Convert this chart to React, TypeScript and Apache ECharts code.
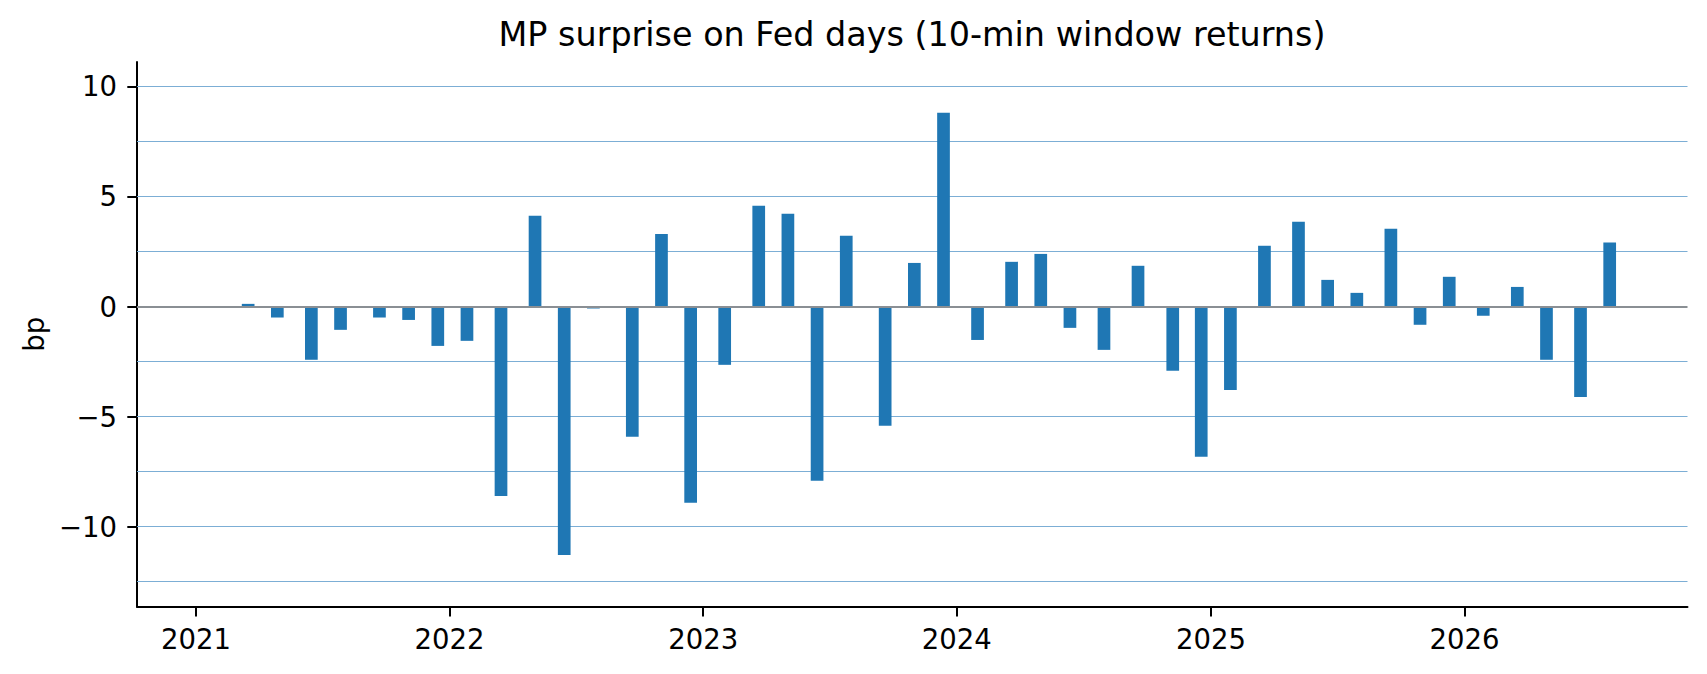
import React, { useEffect, useRef } from "react";
import * as echarts from "echarts";

// FOMC announcement days
const dates: string[] = [
  "2021-01-27", "2021-03-17", "2021-04-28", "2021-06-16", "2021-07-28", "2021-09-22", "2021-11-03", "2021-12-15",
  "2022-01-26", "2022-03-16", "2022-05-04", "2022-06-15", "2022-07-27", "2022-09-21", "2022-11-02", "2022-12-14",
  "2023-02-01", "2023-03-22", "2023-05-03", "2023-06-14", "2023-07-26", "2023-09-20", "2023-11-01", "2023-12-13",
  "2024-01-31", "2024-03-20", "2024-05-01", "2024-06-12", "2024-07-31", "2024-09-18", "2024-11-07", "2024-12-18",
  "2025-01-29", "2025-03-19", "2025-05-07", "2025-06-18", "2025-07-30", "2025-09-17", "2025-10-29", "2025-12-10",
  "2026-01-28", "2026-03-18", "2026-04-29", "2026-06-17", "2026-07-29",
];

// MP surprise (bp), 10-min window returns
const surprise: number[] = [
  0.0, 0.12, -0.5, -2.42, -1.06, -0.5, -0.61, -1.79,
  -1.56, -8.61, 4.12, -11.29, -0.09, -5.92, 3.3, -8.92,
  -2.65, 4.58, 4.21, -7.92, 3.21, -5.42, 1.98, 8.8,
  -1.52, 2.03, 2.39, -0.97, -1.97, 1.85, -2.92, -6.83,
  -3.79, 2.76, 3.85, 1.21, 0.62, 3.53, -0.83, 1.35,
  -0.42, 0.89, -2.42, -4.11, 2.91,
];

const yearTicks: string[] = ["2021-01-01", "2022-01-01", "2023-01-01", "2024-01-01", "2025-01-01", "2026-01-01"];
const yTickLabels: number[] = [-10, -5, 0, 5, 10];
const yGridValues: number[] = [-12.5, -10, -7.5, -5, -2.5, 2.5, 5, 7.5, 10];

const xMinDate = "2020-10-08";
const xMaxDate = "2026-11-18";
const yMin = -13.64;
const yMax = 11.11;

const toUTC = (s: string): number => {
  const [y, m, d] = s.split("-").map(Number);
  return Date.UTC(y, m - 1, d);
};

const FONT = "DejaVu Sans";

export default function App() {
  const ref = useRef<HTMLDivElement>(null);

  useEffect(() => {
    if (!ref.current) return;
    const chart = echarts.init(ref.current, undefined, { renderer: "svg" });
    const option: any = {
      animation: false,
      backgroundColor: "#ffffff",
      title: {
        text: "MP surprise on Fed days (10-min window returns)",
        left: 907,
        top: 13,
        textAlign: "center",
        textStyle: { fontFamily: FONT, fontSize: 33.4, fontWeight: "normal", color: "#000000" },
      },
      grid: { left: 137, right: 19.5, top: 62, bottom: 67.3, containLabel: false },
      xAxis: {
        type: "value",
        min: toUTC(xMinDate),
        max: toUTC(xMaxDate),
        axisLine: { show: true, onZero: false, lineStyle: { color: "#000000", width: 2 } },
        axisTick: {
          show: true,
          length: 9.7,
          customValues: yearTicks.map(toUTC),
          lineStyle: { color: "#000000", width: 2 },
        },
        axisLabel: {
          customValues: yearTicks.map(toUTC),
          formatter: (v: number) => String(new Date(v).getUTCFullYear()),
          fontFamily: FONT,
          fontSize: 27.5,
          color: "#000000",
          margin: 18,
        },
        splitLine: { show: false },
      },
      yAxis: {
        type: "value",
        min: yMin,
        max: yMax,
        name: "bp",
        nameLocation: "middle",
        nameRotate: 90,
        nameGap: 89,
        nameTextStyle: { fontFamily: FONT, fontSize: 27.5, color: "#000000" },
        axisLine: { show: true, onZero: false, lineStyle: { color: "#000000", width: 2 } },
        axisTick: {
          show: true,
          length: 9.7,
          customValues: yTickLabels,
          lineStyle: { color: "#000000", width: 2 },
        },
        axisLabel: {
          customValues: yTickLabels,
          formatter: (v: number) => (v < 0 ? "\u2212" + Math.abs(v) : String(v)),
          fontFamily: FONT,
          fontSize: 27.5,
          color: "#000000",
          margin: 20,
        },
        splitLine: { show: false },
      },
      series: [
        {
          type: "line",
          data: [],
          silent: true,
          z: 1,
          markLine: {
            silent: true,
            z: 1,
            symbol: "none",
            label: { show: false },
            lineStyle: { color: "#7caed5", width: 1.2, type: "solid" },
            data: yGridValues.map((v) => ({ yAxis: v })),
          },
        },
        {
          type: "bar",
          data: dates.map((d, i) => [toUTC(d), surprise[i]]),
          barWidth: 12.7,
          itemStyle: { color: "#1f77b4" },
          z: 2,
          markLine: {
            silent: true,
            z: 5,
            symbol: "none",
            label: { show: false },
            lineStyle: { color: "#8a8f94", width: 1.8, type: "solid" },
            data: [{ yAxis: 0 }],
          },
        },
      ],
    };
    chart.setOption(option);
    return () => {
      chart.dispose();
    };
  }, []);

  return (
    <div
      ref={ref}
      style={{ position: "fixed", left: 0, top: 0, width: 1707, height: 674, background: "#ffffff" }}
    />
  );
}
